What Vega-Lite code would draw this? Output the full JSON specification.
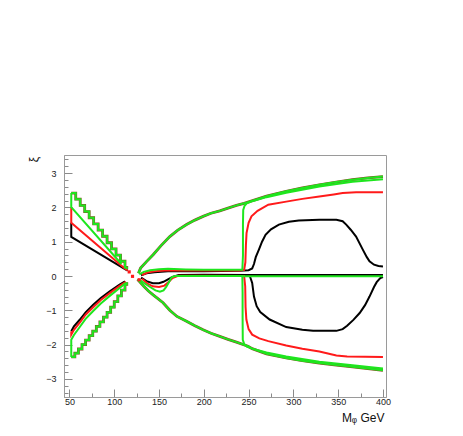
{
  "$schema": "https://vega.github.io/schema/vega-lite/v6.json",
  "width": 322,
  "height": 242,
  "autosize": "none",
  "padding": {"left": 64, "top": 155, "right": 77, "bottom": 39},
  "background": "white",
  "config": {
    "view": {"stroke": "#9a9a9a", "strokeWidth": 1},
    "axis": {"grid": false, "domainColor": "#9a9a9a", "tickColor": "#8a8a8a", "labelFont": "Liberation Sans", "labelFontSize": 9, "labelColor": "#222", "titleFont": "Liberation Sans", "titleFontWeight": "normal", "titleColor": "#111"}
  },
  "data": {"values": [
    {"s":"k1","c":"k","x":52,"y":1.55},{"s":"k1","c":"k","x":52,"y":1.14},{"s":"k1","c":"k","x":112,"y":0.2},{"s":"k1","c":"k","x":115,"y":0.16},
    {"s":"k2","c":"k","x":52,"y":-1.61},{"s":"k2","c":"k","x":55,"y":-1.47},{"s":"k2","c":"k","x":61.7,"y":-1.27},{"s":"k2","c":"k","x":68,"y":-1.06},{"s":"k2","c":"k","x":76.5,"y":-0.84},{"s":"k2","c":"k","x":85,"y":-0.64},{"s":"k2","c":"k","x":95,"y":-0.45},{"s":"k2","c":"k","x":106,"y":-0.25},{"s":"k2","c":"k","x":112,"y":-0.16},
    {"s":"k4","c":"k","x":130,"y":0.02},{"s":"k4","c":"k","x":136,"y":0.08},{"s":"k4","c":"k","x":145,"y":0.11},{"s":"k4","c":"k","x":160,"y":0.14},{"s":"k4","c":"k","x":200,"y":0.14},{"s":"k4","c":"k","x":240,"y":0.15},{"s":"k4","c":"k","x":250,"y":0.17},{"s":"k4","c":"k","x":254,"y":0.22},{"s":"k4","c":"k","x":256,"y":0.35},{"s":"k4","c":"k","x":258,"y":0.55},{"s":"k4","c":"k","x":261.5,"y":0.77},{"s":"k4","c":"k","x":265,"y":1.0},{"s":"k4","c":"k","x":268.9,"y":1.2},{"s":"k4","c":"k","x":275,"y":1.36},{"s":"k4","c":"k","x":283.8,"y":1.5},{"s":"k4","c":"k","x":295,"y":1.58},{"s":"k4","c":"k","x":306,"y":1.62},{"s":"k4","c":"k","x":329,"y":1.64},{"s":"k4","c":"k","x":348,"y":1.64},{"s":"k4","c":"k","x":355,"y":1.6},{"s":"k4","c":"k","x":359,"y":1.5},{"s":"k4","c":"k","x":364,"y":1.35},{"s":"k4","c":"k","x":370,"y":1.15},{"s":"k4","c":"k","x":377.5,"y":0.77},{"s":"k4","c":"k","x":382,"y":0.55},{"s":"k4","c":"k","x":385,"y":0.43},{"s":"k4","c":"k","x":390,"y":0.33},{"s":"k4","c":"k","x":395,"y":0.29},{"s":"k4","c":"k","x":400,"y":0.28},
    {"s":"k5","c":"k","x":130,"y":-0.05},{"s":"k5","c":"k","x":136,"y":-0.15},{"s":"k5","c":"k","x":143,"y":-0.21},{"s":"k5","c":"k","x":150,"y":-0.21},{"s":"k5","c":"k","x":155,"y":-0.17},{"s":"k5","c":"k","x":160,"y":-0.1},{"s":"k5","c":"k","x":165,"y":-0.03},{"s":"k5","c":"k","x":172,"y":0.03},{"s":"k5","c":"k","x":200,"y":0.04},{"s":"k5","c":"k","x":250,"y":0.03},{"s":"k5","c":"k","x":400,"y":0.03},
    {"s":"k6","c":"k","x":251,"y":0.03},{"s":"k6","c":"k","x":254,"y":-0.2},{"s":"k6","c":"k","x":256,"y":-0.6},{"s":"k6","c":"k","x":259,"y":-0.88},{"s":"k6","c":"k","x":263,"y":-1.05},{"s":"k6","c":"k","x":273.5,"y":-1.27},{"s":"k6","c":"k","x":292,"y":-1.49},{"s":"k6","c":"k","x":310,"y":-1.57},{"s":"k6","c":"k","x":322,"y":-1.6},{"s":"k6","c":"k","x":348,"y":-1.6},{"s":"k6","c":"k","x":355,"y":-1.55},{"s":"k6","c":"k","x":360,"y":-1.45},{"s":"k6","c":"k","x":367,"y":-1.28},{"s":"k6","c":"k","x":374,"y":-1.08},{"s":"k6","c":"k","x":380,"y":-0.85},{"s":"k6","c":"k","x":385,"y":-0.6},{"s":"k6","c":"k","x":390,"y":-0.32},{"s":"k6","c":"k","x":393,"y":-0.18},{"s":"k6","c":"k","x":397,"y":-0.06},{"s":"k6","c":"k","x":400,"y":-0.03},
    {"s":"r1","c":"r","x":52,"y":2.0},{"s":"r1","c":"r","x":52,"y":1.55},{"s":"r1","c":"r","x":112,"y":0.21},{"s":"r1","c":"r","x":115,"y":0.16},
    {"s":"r2","c":"r","x":52,"y":-1.61},{"s":"r2","c":"r","x":52,"y":-1.71},{"s":"r2","c":"r","x":55,"y":-1.57},{"s":"r2","c":"r","x":61.7,"y":-1.35},{"s":"r2","c":"r","x":68,"y":-1.13},{"s":"r2","c":"r","x":76.5,"y":-0.91},{"s":"r2","c":"r","x":85,"y":-0.7},{"s":"r2","c":"r","x":95,"y":-0.5},{"s":"r2","c":"r","x":106,"y":-0.29},{"s":"r2","c":"r","x":113,"y":-0.17},
    {"s":"r3","c":"r","x":131,"y":0.03},{"s":"r3","c":"r","x":137,"y":0.1},{"s":"r3","c":"r","x":145,"y":0.14},{"s":"r3","c":"r","x":160,"y":0.17},{"s":"r3","c":"r","x":200,"y":0.16},{"s":"r3","c":"r","x":240,"y":0.16},{"s":"r3","c":"r","x":245,"y":0.18},{"s":"r3","c":"r","x":246.4,"y":0.4},{"s":"r3","c":"r","x":247,"y":0.9},{"s":"r3","c":"r","x":247.7,"y":1.25},{"s":"r3","c":"r","x":250,"y":1.55},{"s":"r3","c":"r","x":253.2,"y":1.74},{"s":"r3","c":"r","x":260,"y":1.9},{"s":"r3","c":"r","x":272,"y":2.08},{"s":"r3","c":"r","x":292,"y":2.17},{"s":"r3","c":"r","x":310,"y":2.25},{"s":"r3","c":"r","x":329,"y":2.32},{"s":"r3","c":"r","x":345,"y":2.38},{"s":"r3","c":"r","x":355,"y":2.42},{"s":"r3","c":"r","x":370,"y":2.44},{"s":"r3","c":"r","x":400,"y":2.44},
    {"s":"r4","c":"r","x":131,"y":-0.08},{"s":"r4","c":"r","x":137,"y":-0.22},{"s":"r4","c":"r","x":143,"y":-0.3},{"s":"r4","c":"r","x":150,"y":-0.32},{"s":"r4","c":"r","x":156,"y":-0.28},{"s":"r4","c":"r","x":161,"y":-0.17},{"s":"r4","c":"r","x":165,"y":-0.06},{"s":"r4","c":"r","x":172,"y":0.01},{"s":"r4","c":"r","x":200,"y":0.01},{"s":"r4","c":"r","x":245,"y":0.0},{"s":"r4","c":"r","x":246.2,"y":-0.3},{"s":"r4","c":"r","x":246.6,"y":-0.9},{"s":"r4","c":"r","x":247.5,"y":-1.27},{"s":"r4","c":"r","x":250,"y":-1.55},{"s":"r4","c":"r","x":254,"y":-1.71},{"s":"r4","c":"r","x":262,"y":-1.82},{"s":"r4","c":"r","x":272,"y":-1.9},{"s":"r4","c":"r","x":292,"y":-2.03},{"s":"r4","c":"r","x":310,"y":-2.12},{"s":"r4","c":"r","x":329,"y":-2.2},{"s":"r4","c":"r","x":348,"y":-2.32},{"s":"r4","c":"r","x":360,"y":-2.35},{"s":"r4","c":"r","x":400,"y":-2.36},
    {"s":"g1","c":"g","x":52,"y":2.42},{"s":"g1","c":"g","x":57,"y":2.24},{"s":"g1","c":"g","x":62,"y":2.06},{"s":"g1","c":"g","x":67,"y":1.88},{"s":"g1","c":"g","x":72,"y":1.7},{"s":"g1","c":"g","x":77,"y":1.52},{"s":"g1","c":"g","x":82,"y":1.34},{"s":"g1","c":"g","x":87,"y":1.16},{"s":"g1","c":"g","x":92,"y":0.97},{"s":"g1","c":"g","x":97,"y":0.79},{"s":"g1","c":"g","x":102,"y":0.61},{"s":"g1","c":"g","x":107,"y":0.43},{"s":"g1","c":"g","x":112,"y":0.25},{"s":"g1","c":"g","x":114,"y":0.2},
    {"s":"g2","c":"g","x":52,"y":2.42},{"s":"g2","c":"g","x":52,"y":2.01},{"s":"g2","c":"g","x":108,"y":0.35},
    {"s":"g3","c":"g","x":52,"y":-2.36},{"s":"g3","c":"g","x":56,"y":-2.25},{"s":"g3","c":"g","x":60,"y":-2.13},{"s":"g3","c":"g","x":64,"y":-2.0},{"s":"g3","c":"g","x":68,"y":-1.87},{"s":"g3","c":"g","x":72,"y":-1.74},{"s":"g3","c":"g","x":76,"y":-1.61},{"s":"g3","c":"g","x":80,"y":-1.47},{"s":"g3","c":"g","x":84,"y":-1.34},{"s":"g3","c":"g","x":88,"y":-1.2},{"s":"g3","c":"g","x":92,"y":-1.06},{"s":"g3","c":"g","x":96,"y":-0.91},{"s":"g3","c":"g","x":100,"y":-0.75},{"s":"g3","c":"g","x":104,"y":-0.58},{"s":"g3","c":"g","x":108,"y":-0.41},{"s":"g3","c":"g","x":112,"y":-0.24},{"s":"g3","c":"g","x":114,"y":-0.18},
    {"s":"g4","c":"g","x":52,"y":-2.36},{"s":"g4","c":"g","x":52,"y":-1.86},{"s":"g4","c":"g","x":55,"y":-1.72},{"s":"g4","c":"g","x":61.7,"y":-1.48},{"s":"g4","c":"g","x":68,"y":-1.25},{"s":"g4","c":"g","x":76.5,"y":-1.02},{"s":"g4","c":"g","x":85,"y":-0.8},{"s":"g4","c":"g","x":95,"y":-0.58},{"s":"g4","c":"g","x":106,"y":-0.35},{"s":"g4","c":"g","x":113,"y":-0.2},
    {"s":"g5","c":"g","x":127,"y":0.08},{"s":"g5","c":"g","x":129.4,"y":0.23},{"s":"g5","c":"g","x":136,"y":0.42},{"s":"g5","c":"g","x":143.4,"y":0.62},{"s":"g5","c":"g","x":152,"y":0.88},{"s":"g5","c":"g","x":162,"y":1.15},{"s":"g5","c":"g","x":171,"y":1.34},{"s":"g5","c":"g","x":180.7,"y":1.5},{"s":"g5","c":"g","x":190,"y":1.63},{"s":"g5","c":"g","x":199.2,"y":1.74},{"s":"g5","c":"g","x":208,"y":1.83},{"s":"g5","c":"g","x":217.8,"y":1.9},{"s":"g5","c":"g","x":227,"y":1.98},{"s":"g5","c":"g","x":236.4,"y":2.06},{"s":"g5","c":"g","x":245,"y":2.12},{"s":"g5","c":"g","x":251,"y":2.17},{"s":"g5","c":"g","x":270,"y":2.33},{"s":"g5","c":"g","x":292,"y":2.47},{"s":"g5","c":"g","x":310,"y":2.57},{"s":"g5","c":"g","x":329,"y":2.66},{"s":"g5","c":"g","x":348,"y":2.74},{"s":"g5","c":"g","x":366,"y":2.81},{"s":"g5","c":"g","x":383,"y":2.86},{"s":"g5","c":"g","x":400,"y":2.9},
    {"s":"g6","c":"g","x":128,"y":0.05},{"s":"g6","c":"g","x":133,"y":0.12},{"s":"g6","c":"g","x":140,"y":0.17},{"s":"g6","c":"g","x":150,"y":0.2},{"s":"g6","c":"g","x":160,"y":0.21},{"s":"g6","c":"g","x":180,"y":0.19},{"s":"g6","c":"g","x":200,"y":0.18},{"s":"g6","c":"g","x":243,"y":0.18},{"s":"g6","c":"g","x":243.7,"y":0.6},{"s":"g6","c":"g","x":243.7,"y":1.5},{"s":"g6","c":"g","x":244,"y":1.93},{"s":"g6","c":"g","x":245.5,"y":2.05},{"s":"g6","c":"g","x":248,"y":2.12},{"s":"g6","c":"g","x":255,"y":2.19},{"s":"g6","c":"g","x":270,"y":2.3},{"s":"g6","c":"g","x":292,"y":2.43},{"s":"g6","c":"g","x":329,"y":2.61},{"s":"g6","c":"g","x":366,"y":2.75},{"s":"g6","c":"g","x":400,"y":2.82},
    {"s":"g7","c":"g","x":126,"y":-0.1},{"s":"g7","c":"g","x":133,"y":-0.3},{"s":"g7","c":"g","x":137.9,"y":-0.43},{"s":"g7","c":"g","x":143.4,"y":-0.55},{"s":"g7","c":"g","x":154.5,"y":-0.78},{"s":"g7","c":"g","x":162,"y":-1.0},{"s":"g7","c":"g","x":170,"y":-1.18},{"s":"g7","c":"g","x":180.7,"y":-1.32},{"s":"g7","c":"g","x":190,"y":-1.45},{"s":"g7","c":"g","x":199.2,"y":-1.57},{"s":"g7","c":"g","x":208,"y":-1.67},{"s":"g7","c":"g","x":217.8,"y":-1.76},{"s":"g7","c":"g","x":227,"y":-1.85},{"s":"g7","c":"g","x":236.4,"y":-1.93},{"s":"g7","c":"g","x":249.3,"y":-2.05},{"s":"g7","c":"g","x":254,"y":-2.12},{"s":"g7","c":"g","x":270,"y":-2.27},{"s":"g7","c":"g","x":292,"y":-2.39},{"s":"g7","c":"g","x":310,"y":-2.47},{"s":"g7","c":"g","x":329,"y":-2.54},{"s":"g7","c":"g","x":348,"y":-2.6},{"s":"g7","c":"g","x":366,"y":-2.65},{"s":"g7","c":"g","x":383,"y":-2.7},{"s":"g7","c":"g","x":400,"y":-2.75},
    {"s":"g8","c":"g","x":128,"y":-0.1},{"s":"g8","c":"g","x":134,"y":-0.22},{"s":"g8","c":"g","x":140,"y":-0.32},{"s":"g8","c":"g","x":146,"y":-0.42},{"s":"g8","c":"g","x":151,"y":-0.46},{"s":"g8","c":"g","x":155,"y":-0.42},{"s":"g8","c":"g","x":158,"y":-0.32},{"s":"g8","c":"g","x":161,"y":-0.18},{"s":"g8","c":"g","x":164,"y":-0.04},{"s":"g8","c":"g","x":168,"y":0.0},{"s":"g8","c":"g","x":200,"y":0.0},{"s":"g8","c":"g","x":243,"y":0.0},{"s":"g8","c":"g","x":243.3,"y":-0.5},{"s":"g8","c":"g","x":243.3,"y":-1.2},{"s":"g8","c":"g","x":243.5,"y":-1.86},{"s":"g8","c":"g","x":245,"y":-1.98},{"s":"g8","c":"g","x":248,"y":-2.06},{"s":"g8","c":"g","x":254,"y":-2.12},{"s":"g8","c":"g","x":270,"y":-2.23},{"s":"g8","c":"g","x":292,"y":-2.35},{"s":"g8","c":"g","x":329,"y":-2.5},{"s":"g8","c":"g","x":366,"y":-2.6},{"s":"g8","c":"g","x":400,"y":-2.7},
    {"s":"g9","c":"g","x":243,"y":-0.01},{"s":"g9","c":"g","x":400,"y":-0.01},
    {"s":"d","c":"r","x":116.7,"y":0.12},{"s":"d","c":"r","x":120.4,"y":-0.01},{"s":"d","c":"r","x":127.8,"y":-0.11}
  ]},
  "encoding": {
    "x": {"field": "x", "type": "quantitative", "scale": {"domain": [43.9, 403.4], "nice": false, "zero": false},
      "axis": {"title": "Mᵩ GeV", "values": [50,75,100,125,150,175,200,225,250,275,300,325,350,375,400],
        "labelExpr": "datum.value % 50 === 0 ? datum.label : ''",
        "tickSize": {"condition": {"test": "datum.value % 50 === 0", "value": -8}, "value": -4},
        "labelPadding": 8, "titleFontSize": 12, "titleX": 320, "titleY": 20, "titleAlign": "right", "titleBaseline": "middle", "titleAnchor": null}},
    "y": {"field": "y", "type": "quantitative", "scale": {"domain": [-3.53, 3.53], "nice": false, "zero": false},
      "axis": {"title": "ξ", "values": [-3.4,-3.2,-3,-2.8,-2.6,-2.4,-2.2,-2,-1.8,-1.6,-1.4,-1.2,-1,-0.8,-0.6,-0.4,-0.2,0,0.2,0.4,0.6,0.8,1,1.2,1.4,1.6,1.8,2,2.2,2.4,2.6,2.8,3,3.2,3.4],
        "labelExpr": "abs(datum.value - round(datum.value)) < 0.01 ? format(datum.value, 'd') : ''",
        "tickSize": {"condition": {"test": "abs(datum.value - round(datum.value)) < 0.01", "value": -8}, "value": -4},
        "labelPadding": 16, "titleFontSize": 12, "titleX": -31, "titleY": 4, "titleAngle": -90, "titleAlign": "center", "titleBaseline": "middle", "titleAnchor": null}}
  },
  "layer": [
    {"transform": [{"filter": {"field": "s", "oneOf": ["g5", "g7"]}}], "mark": {"type": "line", "color": "#8a4a26", "strokeWidth": 2.8, "clip": true}, "encoding": {"detail": {"field": "s"}, "order": {"value": null}}},
    {"transform": [{"filter": {"field": "s", "oneOf": ["g1", "g3"]}}], "mark": {"type": "line", "color": "#8a4a26", "strokeWidth": 2.8, "interpolate": "step-after", "clip": true}, "encoding": {"detail": {"field": "s"}, "order": {"value": null}}},
    {"transform": [{"filter": "datum.c === 'k'"}], "mark": {"type": "line", "color": "#000000", "strokeWidth": 2, "clip": true}, "encoding": {"detail": {"field": "s"}, "order": {"value": null}}},
    {"transform": [{"filter": "datum.c === 'r' && datum.s !== 'd'"}], "mark": {"type": "line", "color": "#ff1a1a", "strokeWidth": 2, "clip": true}, "encoding": {"detail": {"field": "s"}, "order": {"value": null}}},
    {"transform": [{"filter": {"field": "s", "oneOf": ["g2", "g4", "g5", "g6", "g7", "g8", "g9"]}}], "mark": {"type": "line", "color": "#1ee61e", "strokeWidth": 2, "clip": true}, "encoding": {"detail": {"field": "s"}, "order": {"value": null}}},
    {"transform": [{"filter": {"field": "s", "oneOf": ["g1", "g3"]}}], "mark": {"type": "line", "color": "#1ee61e", "strokeWidth": 2, "interpolate": "step-after", "clip": true}, "encoding": {"detail": {"field": "s"}, "order": {"value": null}}},
    {"transform": [{"filter": "datum.s === 'd'"}], "mark": {"type": "square", "color": "#ff1a1a", "size": 10, "opacity": 1}}
  ]
}
